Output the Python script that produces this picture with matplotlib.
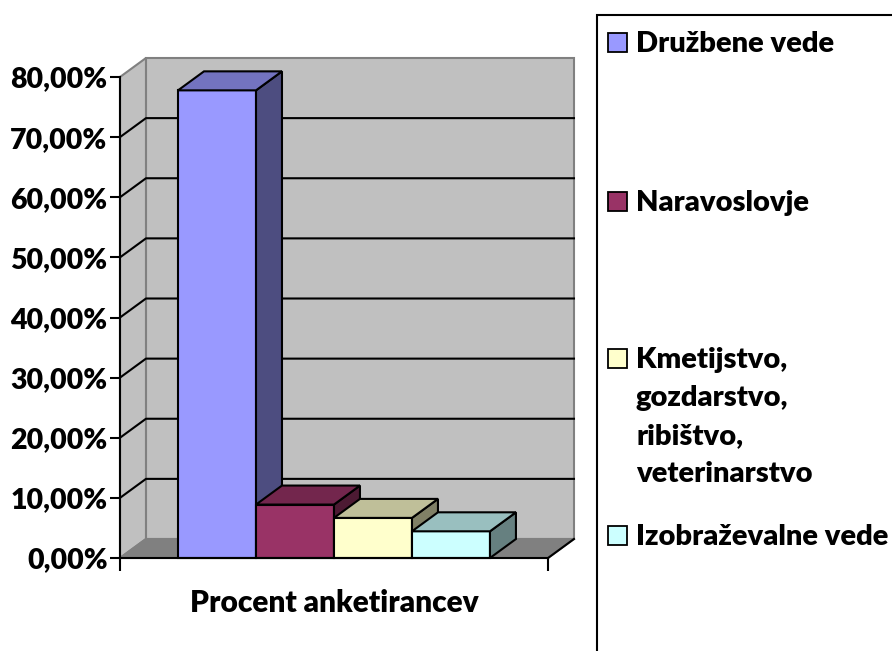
import numpy as np
import matplotlib.pyplot as plt
from matplotlib.patches import Polygon, Rectangle
from matplotlib.colors import to_rgb

plt.rcParams['font.family'] = ['Lato', 'DejaVu Sans']
plt.rcParams['font.weight'] = 'heavy'

# data
categories = ['Družbene vede', 'Naravoslovje',
              'Kmetijstvo,\ngozdarstvo,\nribištvo,\nveterinarstvo',
              'Izobraževalne vede']
values = [77.78, 8.89, 6.67, 4.44]
colors = ['#9999FF', '#993366', '#FFFFCC', '#CCFFFF']
yticks = [0, 10, 20, 30, 40, 50, 60, 70, 80]
xlabel = 'Procent anketirancev'

W, H = 892, 651
fig = plt.figure(figsize=(W / 100, H / 100), dpi=100)
ax = fig.add_axes([120 / W, (H - 558) / H, 428 / W, 481 / H])
ax.patch.set_visible(False)

x0, x1 = -0.744, 4.744
ymax = 80
ax.set_xlim(x0, x1)
ax.set_ylim(0, ymax)
DX, DY = 0.333, 3.16   # 3d depth offset in data units

wall = '#C0C0C0'
edge = '#808080'
# back wall, left wall, floor
ax.add_patch(Polygon([(x0 + DX, DY), (x1 + DX, DY), (x1 + DX, ymax + DY), (x0 + DX, ymax + DY)],
                     fc=wall, ec=edge, lw=1.5, clip_on=False, zorder=0))
ax.add_patch(Polygon([(x0, 0), (x0 + DX, DY), (x0 + DX, ymax + DY), (x0, ymax)],
                     fc=wall, ec=edge, lw=1.5, clip_on=False, zorder=0))
ax.add_patch(Polygon([(x0, 0), (x1, 0), (x1 + DX, DY), (x0 + DX, DY)],
                     fc=edge, ec=edge, lw=1.5, clip_on=False, zorder=0))
ax.plot([x1, x1 + DX], [0, DY], color='black', lw=1.5, clip_on=False, zorder=1)

# gridlines on walls
for v in yticks[1:-1]:
    ax.plot([x0, x0 + DX, x1 + DX], [v, v + DY, v + DY], color='black', lw=1.5,
            clip_on=False, zorder=1)

# bars
idx = np.arange(len(values))
bars = ax.bar(idx, values, width=1, align='edge', color=colors, edgecolor='black',
              linewidth=1.5, clip_on=False)
for i, (b, v, c) in enumerate(zip(bars, values, colors)):
    rgb = np.array(to_rgb(c))
    z = 3 + i
    b.set_zorder(z)
    top = Polygon([(i, v), (i + DX, v + DY), (i + 1 + DX, v + DY), (i + 1, v)],
                  fc=rgb * 0.75, ec='black', lw=1.5, clip_on=False, zorder=z)
    side = Polygon([(i + 1, 0), (i + 1, v), (i + 1 + DX, v + DY), (i + 1 + DX, DY)],
                   fc=rgb * 0.5, ec='black', lw=1.5, clip_on=False, zorder=z)
    ax.add_patch(side)
    ax.add_patch(top)

# axes
for s in ['top', 'right']:
    ax.spines[s].set_visible(False)
for s in ['left', 'bottom']:
    ax.spines[s].set_linewidth(1.5)
    ax.spines[s].set_zorder(10)
ax.set_yticks(yticks)
ax.set_yticklabels([('%.2f%%' % t).replace('.', ',') for t in yticks], fontsize=20.5,
                   fontweight='heavy')
ax.set_xticks([x0, x1])
ax.set_xticklabels([])
ax.tick_params(axis='y', length=7, width=1.5, pad=2)
ax.tick_params(axis='x', length=9, width=1.5)
fig.text(334 / W, 1 - 603 / H, xlabel, ha='center', va='center', fontsize=21.5,
         fontweight='heavy')

# legend
fig.add_artist(Rectangle((597 / W, -0.1), 0.5, 1.1 - 15 / H, transform=fig.transFigure,
                         fill=False, ec='black', lw=1.5))
baselines = [52, 211, 368, 545]
for lab, c, yb in zip(categories, colors, baselines):
    fig.add_artist(Rectangle((608 / W, 1 - yb / H), 19 / W, 19 / H,
                             transform=fig.transFigure, fc=c, ec='black', lw=1.3))
    for k, line in enumerate(lab.split('\n')):
        fig.text(636 / W, 1 - (yb + 38 * k) / H, line, ha='left', va='baseline',
                 fontsize=21, fontweight='heavy')

fig.savefig('out.png', dpi=100)
